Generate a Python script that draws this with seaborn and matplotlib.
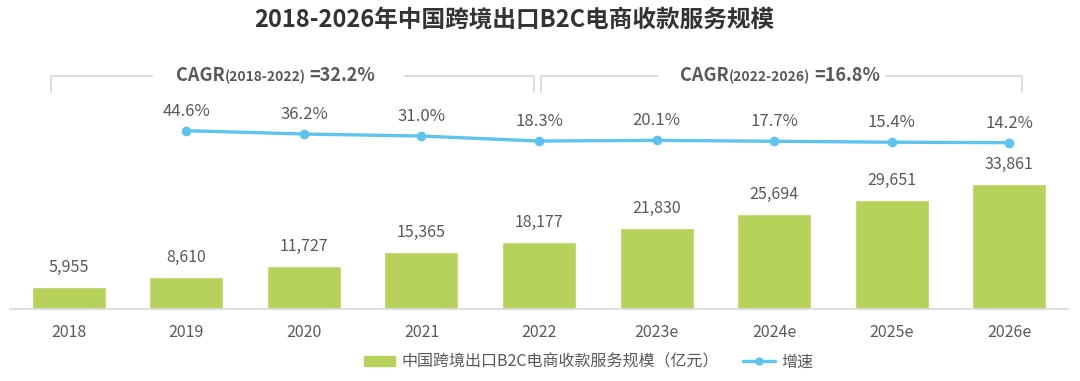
import numpy as np
import pandas as pd
import matplotlib
matplotlib.use("Agg")
import matplotlib.pyplot as plt
from matplotlib.patches import Patch
from matplotlib.lines import Line2D
import seaborn as sns

years = ["2018", "2019", "2020", "2021", "2022", "2023e", "2024e", "2025e", "2026e"]
scale = [5955, 8610, 11727, 15365, 18177, 21830, 25694, 29651, 33861]
growth_years = ["2019", "2020", "2021", "2022", "2023e", "2024e", "2025e", "2026e"]
growth = [44.6, 36.2, 31.0, 18.3, 20.1, 17.7, 15.4, 14.2]
cagr_labels = [("(2018-2022)", "=32.2%"), ("(2022-2026)", "=16.8%")]

sns.set_theme(style="white")
plt.rcParams['font.family'] = ['Noto Sans CJK SC', 'DejaVu Sans']

bar_col = "#b7d25a"
line_col = "#5ec4ee"
txt_col = "#595959"

fig = plt.figure(figsize=(10.8, 3.81), dpi=100)
ax = fig.add_axes([10 / 1080, 72 / 381, 1058 / 1080, 249 / 381])

df = pd.DataFrame({"year": years, "scale": scale})
sns.barplot(data=df, x="year", y="scale", color=bar_col, saturation=1,
            width=0.63, ax=ax)
ax.set_xlim(-0.5, 8.5)
ax.set_ylim(0, 67500)
ax.set_xlabel("")
ax.set_ylabel("")
ax.set_yticks([])
for s in ["top", "right", "left"]:
    ax.spines[s].set_visible(False)
ax.spines["bottom"].set_color("#d9d9d9")
ax.tick_params(axis="x", length=0, pad=11, labelsize=11.5, labelcolor=txt_col)

for i, v in enumerate(scale):
    ax.annotate(f"{v:,}", (i, v), xytext=(0, 8), textcoords="offset points",
                ha="center", va="bottom", fontsize=11.5, color=txt_col)

ax2 = ax.twinx()
gx = [years.index(y) for y in growth_years]
sns.lineplot(x=gx, y=growth, color=line_col, linewidth=2.4, marker="o",
             markersize=7, markeredgewidth=0, ax=ax2)
ax2.set_ylim(-408.6, 224.3)
ax2.set_yticks([])
for s in ["top", "right", "left", "bottom"]:
    ax2.spines[s].set_visible(False)
for x, g in zip(gx, growth):
    ax2.annotate(f"{g:.1f}%", (x, g), xytext=(0, 8), textcoords="offset points",
                 ha="center", va="bottom", fontsize=12, color=txt_col)

# CAGR brackets: (left end, gap start, gap end, right end) in bar units
br_col = "#d9d9d9"
brackets = [(-0.15, 0.71, 2.86, 3.96), (4.02, 5.0, 6.95, 8.11)]
trans = ax.get_xaxis_transform()
yl, yd = 0.936, 0.872
for (x0, g0, g1, x1), (paren, val) in zip(brackets, cagr_labels):
    ax.plot([x0, x0, g0], [yd, yl, yl], color=br_col, lw=1.3,
            transform=trans, clip_on=False)
    ax.plot([g1, x1, x1], [yl, yl, yd], color=br_col, lw=1.3,
            transform=trans, clip_on=False)
    t1 = ax.text(g0 + 0.2, yl, "CAGR", transform=trans, ha="left", va="center",
                 fontsize=13, fontweight="bold", color=txt_col)
    t2 = ax.annotate(paren, xy=(1, 0.5), xycoords=t1, xytext=(0, -1),
                     textcoords="offset points", ha="left", va="center",
                     fontsize=10, fontweight="bold", color=txt_col)
    ax.annotate(val, xy=(1, 0.5), xycoords=t2, xytext=(3, 1),
                textcoords="offset points", ha="left", va="center",
                fontsize=13, fontweight="bold", color=txt_col)

fig.text(514 / 1080, 1 - 20 / 381, "2018-2026年中国跨境出口B2C电商收款服务规模",
         ha="center", va="center", fontsize=17, fontweight="bold", color="#333333")

handles = [Patch(color=bar_col),
           Line2D([0], [0], color=line_col, lw=2.4, marker="o", markersize=5)]
fig.legend(handles, ["中国跨境出口B2C电商收款服务规模（亿元）", "增速"],
           loc="center", bbox_to_anchor=(0.545, 1 - 362 / 381), ncol=2,
           frameon=False, fontsize=11.5, handlelength=2.0, handleheight=0.6,
           columnspacing=1.5, handletextpad=0.4, labelcolor=txt_col)

fig.savefig("out.png", dpi=100)
